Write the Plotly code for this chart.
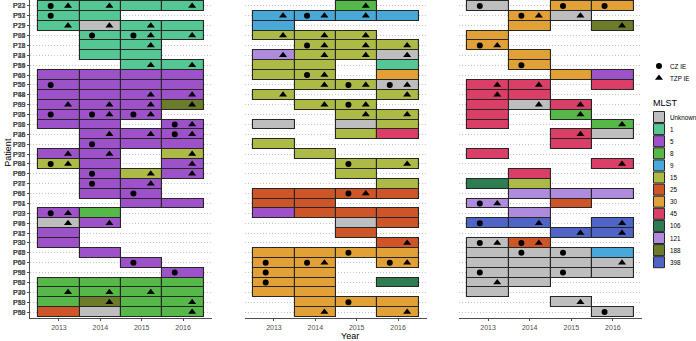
import plotly.graph_objects as go

years = [2013, 2014, 2015, 2016]

mlst_levels = ["Unknown", "1", "5", "8", "9", "15", "25", "30", "45", "106", "121", "188", "398"]
mlst_colors = ["#BEBEBE", "#55C795", "#9D52C9", "#55B848", "#48A8D8", "#ADBA45", "#CE5528",
               "#E1A136", "#DB3E66", "#2E7D52", "#AE8BDD", "#6B7C2B", "#5064C8"]

# each row: patient, then one cell per year: "<MLST> <marks>" ; "-" = no isolate
# marks: C = CZ IE, T = TZP IE
left_rows = [
    ("P83", "1 CT", "1 T", "1", "1 T"),
    ("P53", "1 C", "1", "-", "-"),
    ("P29", "1 T", "Unknown T", "1 T", "1"),
    ("P94", "-", "1 C", "1 CT", "1 T"),
    ("P18", "-", "1", "1 T", "-"),
    ("P49", "-", "1", "1", "-"),
    ("P85", "-", "-", "1 T", "1 T"),
    ("P63", "5", "5", "5", "5"),
    ("P26", "5 C", "5", "5", "5"),
    ("P44", "5", "5", "5 T", "5 T"),
    ("P93", "5 T", "5 T", "5 T", "188 T"),
    ("P34", "5 C", "5 CT", "5 CT", "-"),
    ("P10", "5", "5", "-", "5 CT"),
    ("P46", "-", "5 T", "5 T", "5 CT"),
    ("P86", "-", "5 C", "5", "5"),
    ("P71", "5 T", "5 T", "-", "15 T"),
    ("P81", "15 CT", "5", "-", "5 T"),
    ("P90", "-", "5 C", "15 T", "5 T"),
    ("P87", "-", "5 C", "5 T", "-"),
    ("P67", "-", "5", "5 C", "-"),
    ("P51", "-", "-", "5", "5"),
    ("P33", "5 CT", "8", "-", "-"),
    ("P41", "Unknown T", "5 T", "-", "-"),
    ("P47", "5", "-", "-", "-"),
    ("P32", "5", "-", "-", "-"),
    ("P62", "-", "5", "-", "-"),
    ("P64", "-", "-", "5 C", "-"),
    ("P55", "-", "-", "-", "5 C"),
    ("P04", "8", "8", "8", "8"),
    ("P70", "8 T", "8 T", "8 T", "8"),
    ("P13", "8", "188 T", "8", "8 T"),
    ("P50", "25", "Unknown", "8", "8 T"),
]

middle_rows = [
    ("P22", "-", "-", "8 T", "-"),
    ("P11", "9 T", "9 CT", "9 T", "9"),
    ("P25", "9", "-", "-", "-"),
    ("P15", "15 T", "15 T", "15 T", "-"),
    ("P72", "-", "15 CT", "15 T", "15 T"),
    ("P14", "121 T", "15 T", "15 T", "Unknown T"),
    ("P19", "15", "15", "-", "1"),
    ("P43", "15", "15 CT", "-", "30"),
    ("P56", "-", "15 T", "15 CT", "Unknown CT"),
    ("P48", "15 T", "-", "-", "15 T"),
    ("P39", "-", "15 T", "15 CT", "-"),
    ("P05", "-", "-", "15 T", "15 T"),
    ("P08", "Unknown", "-", "Unknown", "15"),
    ("P28", "-", "-", "15", "45"),
    ("P20", "15", "-", "-", "-"),
    ("P37", "-", "15", "-", "-"),
    ("P84", "-", "-", "15 C", "15 T"),
    ("P89", "-", "-", "15", "-"),
    ("P76", "-", "-", "-", "15"),
    ("P91", "25", "25", "25 CT", "25"),
    ("P74", "25", "25", "-", "-"),
    ("P09", "5", "25", "25", "25"),
    ("P79", "-", "-", "Unknown", "25"),
    ("P12", "-", "-", "25", "-"),
    ("P30", "-", "-", "-", "25 T"),
    ("P78", "30", "30", "30 C", "30"),
    ("P60", "30 C", "30 CT", "-", "30 CT"),
    ("P98", "30 C", "30", "-", "-"),
    ("P82", "30 C", "30", "-", "106"),
    ("P40", "30", "30", "-", "-"),
    ("P59", "-", "30", "30 C", "30"),
    ("P68", "-", "30 T", "-", "30 T"),
]

right_rows = [
    ("P21", "Unknown C", "-", "30 C", "30 C"),
    ("P97", "-", "30 CT", "Unknown T", "-"),
    ("P17", "-", "30", "-", "188 T"),
    ("P02", "30", "-", "-", "-"),
    ("P16", "30 CT", "-", "-", "-"),
    ("P23", "-", "30", "-", "-"),
    ("P54", "-", "30 C", "-", "-"),
    ("P06", "-", "-", "30", "5"),
    ("P57", "45 T", "45 T", "-", "45"),
    ("P58", "45 T", "45", "-", "-"),
    ("P69", "45", "Unknown T", "45 T", "-"),
    ("P75", "45", "-", "8 T", "-"),
    ("P31", "45", "-", "-", "8 T"),
    ("P36", "-", "-", "45 T", "Unknown"),
    ("P73", "-", "-", "45", "-"),
    ("P95", "45", "-", "-", "-"),
    ("P03", "-", "-", "-", "45 T"),
    ("P65", "-", "45", "-", "-"),
    ("P77", "106", "15", "-", "-"),
    ("P66", "-", "121", "121", "121"),
    ("P01", "121 CT", "-", "25", "-"),
    ("P27", "-", "121", "-", "-"),
    ("P96", "398 C", "398 T", "-", "398 T"),
    ("P35", "-", "-", "398 T", "398 T"),
    ("P80", "Unknown CT", "25 CT", "-", "-"),
    ("P45", "Unknown", "Unknown C", "Unknown C", "9"),
    ("P07", "Unknown", "Unknown", "Unknown", "Unknown T"),
    ("P92", "Unknown C", "Unknown", "Unknown C", "Unknown"),
    ("P52", "Unknown T", "Unknown", "-", "-"),
    ("P24", "Unknown", "-", "-", "-"),
    ("P88", "-", "-", "Unknown T", "-"),
    ("P38", "-", "-", "-", "Unknown C"),
]

panels = [left_rows, middle_rows, right_rows]

# ---------------- layout geometry ----------------
W, H = 696, 341
plot_bottom = 23
x_domains_px = [(30, 212), (245, 427), (459, 642)]
CIRCLE_DX, TRI_DX = -0.2, 0.22
EDGE = "#262626"
GRID = "#C4C4C4"
AXIS = "#4D4D4D"
FONT = "Liberation Sans, Arial, sans-serif"

fig = go.Figure()

for pi, rows in enumerate(panels):
    ax = "" if pi == 0 else str(pi + 1)
    xref, yref = "x" + ax, "y" + ax
    patients = [r[0] for r in rows]
    # tiles grouped by MLST
    for lev, col in zip(mlst_levels, mlst_colors):
        ys, bases = [], []
        for r in rows:
            for yr, cell in zip(years, r[1:]):
                if cell == "-":
                    continue
                m = cell.split()[0]
                if m == lev:
                    ys.append(r[0])
                    bases.append(yr - 0.5)
        if ys:
            fig.add_trace(go.Bar(
                y=ys, x=[1] * len(ys), base=bases, orientation="h", width=1,
                marker=dict(color=col, line=dict(color=EDGE, width=1.1)),
                xaxis=xref, yaxis=yref, showlegend=False, name=lev,
                hovertemplate="%{y} %{base}<extra>" + lev + "</extra>"))
    # markers
    for code, dx, sym, nm in [("C", CIRCLE_DX, "circle", "CZ IE"), ("T", TRI_DX, "triangle-up", "TZP IE")]:
        xs, ys = [], []
        for r in rows:
            for yr, cell in zip(years, r[1:]):
                parts = cell.split()
                if len(parts) > 1 and code in parts[1]:
                    xs.append(yr + dx)
                    ys.append(r[0])
        fig.add_trace(go.Scatter(
            x=xs, y=ys, mode="markers", xaxis=xref, yaxis=yref, showlegend=False, name=nm,
            marker=dict(symbol=sym, size=6 if sym == "circle" else 7, color="black", line=dict(width=0))))
    d0, d1 = x_domains_px[pi]
    fig.update_layout(**{
        "xaxis" + ax: dict(domain=[d0 / W, d1 / W], range=[2012.3, 2016.7], tickvals=years,
                           ticktext=[str(y) for y in years], showgrid=False, zeroline=False,
                           showline=True, linecolor=AXIS, linewidth=1.2, ticks="outside",
                           ticklen=2, tickcolor=AXIS, tickfont=dict(size=7, color="#4D4D4D", family=FONT),
                           fixedrange=True),
        "yaxis" + ax: dict(type="category", categoryorder="array", categoryarray=patients,
                           range=[31.6, -0.6], showgrid=True, gridcolor=GRID, griddash="1px,2px",
                           gridwidth=0.8, zeroline=False, showline=True, linecolor=AXIS, linewidth=1.2,
                           ticks="outside", ticklen=2, tickcolor=AXIS,
                           tickfont=dict(size=7, color="#4D4D4D", family=FONT), fixedrange=True),
    })

# ---------------- legend (drawn on its own pixel-scaled axis) ----------------
fig.update_layout(
    xaxis4=dict(domain=[642 / W, 1], range=[642, 696], visible=False, fixedrange=True, anchor="y4"),
    yaxis4=dict(domain=[0, 1], range=[H - plot_bottom, 0], visible=False, fixedrange=True, anchor="x4"),
)
lx, ltxt = 659, 667.5
shape_legend = [("CZ IE", "circle", 6), ("TZP IE", "triangle-up", 7)]
for i, (nm, sym, sz) in enumerate(shape_legend):
    y = 66 + 12 * i
    fig.add_trace(go.Scatter(x=[lx], y=[y], mode="markers", xaxis="x4", yaxis="y4",
                             marker=dict(symbol=sym, size=sz, color="black"), showlegend=False,
                             hoverinfo="skip"))
    fig.add_annotation(x=ltxt, y=y, xref="x4", yref="y4", text=nm, showarrow=False,
                       xanchor="left", yanchor="middle", font=dict(size=6.3, color="black", family=FONT))
fig.add_annotation(x=651, y=103, xref="x4", yref="y4", text="MLST", showarrow=False,
                   xanchor="left", yanchor="middle", font=dict(size=9, color="black", family=FONT))
for i, (lev, col) in enumerate(zip(mlst_levels, mlst_colors)):
    y = 117 + 12.1 * i
    fig.add_trace(go.Scatter(x=[lx], y=[y], mode="markers", xaxis="x4", yaxis="y4",
                             marker=dict(symbol="square", size=11, color=col,
                                         line=dict(color=EDGE, width=1)),
                             showlegend=False, hoverinfo="skip"))
    fig.add_annotation(x=ltxt, y=y, xref="x4", yref="y4", text=lev, showarrow=False,
                       xanchor="left", yanchor="middle", font=dict(size=6.3, color="black", family=FONT))

# axis titles
fig.add_annotation(x=350 / W, y=-18 / (H - plot_bottom), xref="paper", yref="paper", text="Year",
                   showarrow=False, xanchor="center", yanchor="middle",
                   font=dict(size=9, color="black", family=FONT))
fig.add_annotation(x=8 / W, y=0.52, xref="paper", yref="paper", text="Patient", textangle=-90,
                   showarrow=False, xanchor="center", yanchor="middle",
                   font=dict(size=9, color="black", family=FONT))

fig.update_layout(
    width=W, height=H, barmode="overlay", bargap=0,
    margin=dict(l=0, r=0, t=0, b=plot_bottom),
    paper_bgcolor="white", plot_bgcolor="white", showlegend=False,
    font=dict(family=FONT),
)

# remove the browser's default 8px page margin so the figure sits at the window origin
fig.write_html("out.html", config={"displayModeBar": False},
               post_script="document.body.style.margin='0px';")
